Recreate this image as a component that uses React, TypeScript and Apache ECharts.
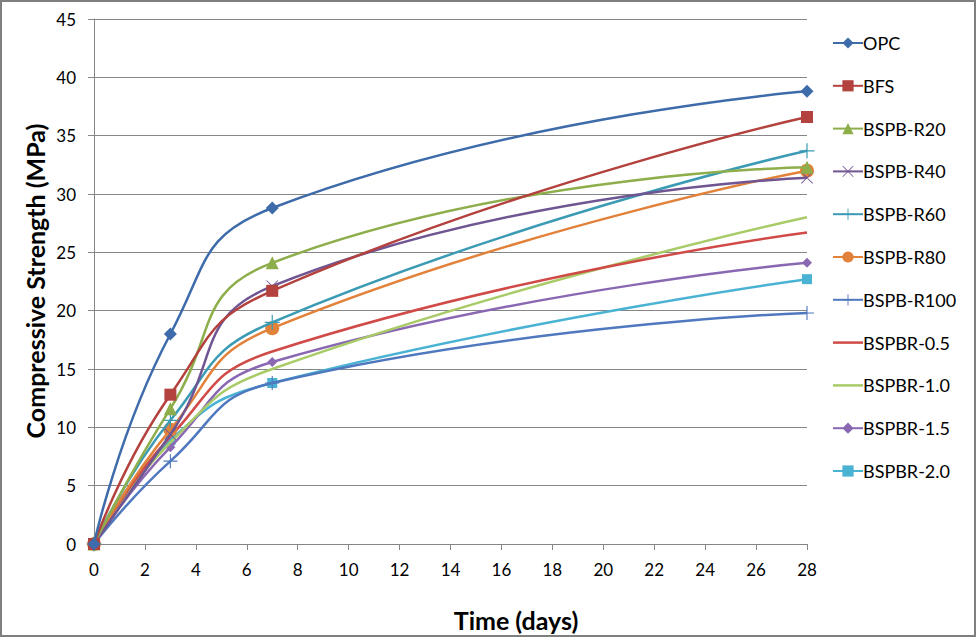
import React, { useEffect, useRef } from "react";
import * as echarts from "echarts";

const days = [0, 3, 7, 28];
const seriesNames = [
  "OPC",
  "BFS",
  "BSPB-R20",
  "BSPB-R40",
  "BSPB-R60",
  "BSPB-R80",
  "BSPB-R100",
  "BSPBR-0.5",
  "BSPBR-1.0",
  "BSPBR-1.5",
  "BSPBR-2.0",
];
const opc = [0, 18.0, 28.8, 38.8];
const bfs = [0, 12.8, 21.7, 36.6];
const r20 = [0, 11.6, 24.1, 32.3];
const r40 = [0, 9.4, 22.1, 31.4];
const r60 = [0, 10.6, 19.0, 33.7];
const r80 = [0, 9.8, 18.5, 32.0];
const r100 = [0, 7.1, 13.8, 19.8];
const br05 = [0, 9.2, 16.5, 26.7];
const br10 = [0, 8.7, 15.0, 28.0];
const br15 = [0, 8.3, 15.6, 24.1];
const br20 = [0, 8.9, 13.8, 22.7];
const allValues = [opc, bfs, r20, r40, r60, r80, r100, br05, br10, br15, br20];

const colors = [
  "#3E6BAA",
  "#B3413D",
  "#8DAE4A",
  "#6F5592",
  "#3C9BB4",
  "#E2823A",
  "#4F78BE",
  "#D04B48",
  "#A9CB67",
  "#8A67B2",
  "#4AB3D4",
];

const PLUS = "path://M-0.8,-10 H0.8 V-0.8 H10 V0.8 H0.8 V10 H-0.8 V0.8 H-10 V-0.8 H-0.8 Z";
const CROSS =
  "path://M-10,-9 L-9,-10 L0,-1 L9,-10 L10,-9 L1,0 L10,9 L9,10 L0,1 L-9,10 L-10,9 L-1,0 Z";
const LINE_ICON = "path://M0,0 H30 V2.5 H0 Z";

const symbols = ["diamond", "rect", "triangle", CROSS, PLUS, "circle", PLUS, "none", "none", "diamond", "rect"];
const symbolSizes = [13, 12, 13, 12, 15, 14, 14, 0, 0, 10, 10];

export default function App() {
  const ref = useRef<HTMLDivElement>(null);
  useEffect(() => {
    if (!ref.current) return;
    const chart = echarts.init(ref.current, null, { renderer: "svg" });
    const font = "Lato, 'Open Sans', sans-serif";
    const series = seriesNames.map((name, i) => ({
      name,
      type: "line",
      data: days.map((d, j) => [d, allValues[i][j]]),
      smooth: 0.5,
      symbol: symbols[i],
      symbolSize: symbolSizes[i],
      showSymbol: symbols[i] !== "none",
      lineStyle: { color: colors[i], width: 2.5 },
      itemStyle: { color: colors[i] },
      z: 20 - i,
    }));
    chart.setOption({
      animation: false,
      backgroundColor: "#ffffff",
      textStyle: { fontFamily: font },
      grid: { left: 94, right: 170, top: 19, bottom: 94 },
      xAxis: {
        type: "value",
        min: 0,
        max: 28,
        interval: 2,
        axisLine: { show: true, lineStyle: { color: "#868686", width: 1 } },
        axisTick: { show: true, length: 6, lineStyle: { color: "#868686" } },
        axisLabel: { color: "#000", fontSize: 17, margin: 17, fontFamily: font },
        splitLine: { show: false },
      },
      yAxis: {
        type: "value",
        min: 0,
        max: 45,
        interval: 5,
        axisLine: { show: true, lineStyle: { color: "#868686", width: 1 } },
        axisTick: { show: true, length: 6, lineStyle: { color: "#868686" } },
        axisLabel: { color: "#000", fontSize: 17, margin: 18, fontFamily: font },
        splitLine: { show: true, lineStyle: { color: "#868686", width: 1 } },
      },
      legend: {
        orient: "vertical",
        left: 827,
        top: 29,
        itemWidth: 30,
        itemHeight: 14,
        itemGap: 24.8,
        textStyle: { color: "#000", fontSize: 18, fontFamily: font, padding: [0, 0, 0, -5] },
        data: seriesNames.map((name, i) =>
          symbols[i] === "none" ? { name, icon: LINE_ICON } : { name }
        ),
      },
      graphic: [
        {
          type: "rect",
          shape: { x: 1, y: 1, width: 974, height: 635 },
          style: { fill: "none", stroke: "#7f7f7f", lineWidth: 2 },
          silent: true,
        },
        {
          type: "text",
          x: 516,
          y: 620,
          style: {
            text: "Time (days)",
            font: "bold 25px Lato, 'Open Sans', sans-serif",
            fill: "#000",
            align: "center",
            verticalAlign: "middle",
          },
        },
        {
          type: "text",
          x: 35,
          y: 281,
          rotation: Math.PI / 2,
          style: {
            text: "Compressive Strength (MPa)",
            font: "bold 25px Lato, 'Open Sans', sans-serif",
            fill: "#000",
            align: "center",
            verticalAlign: "middle",
          },
        },
      ],
      series,
    });
    return () => chart.dispose();
  }, []);
  return (
    <div
      ref={ref}
      style={{ position: "absolute", left: 0, top: 0, width: 977, height: 638 }}
    />
  );
}
